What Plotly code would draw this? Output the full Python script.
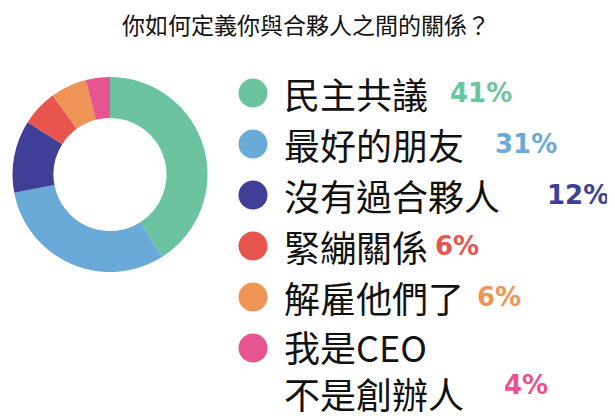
import plotly.graph_objects as go

# data
title = "你如何定義你與合夥人之間的關係？"
labels = ["民主共議", "最好的朋友", "沒有過合夥人", "緊繃關係", "解雇他們了", "我是CEO<br>不是創辦人"]
values = [41, 31, 12, 6, 6, 4]
colors = ["#6cc3a0", "#6aaad8", "#3f3f98", "#e8554f", "#ee9457", "#e8548f"]

# the page body has an 8px margin, so the figure is drawn 8px in from the
# window corner; work in window pixels and subtract that offset
OFF = 8
W, H = 615 - OFF, 420 - OFF


def px(x):
    return x - OFF


row0, row_gap = px(93), 51          # centre of first legend row, spacing
dot_x, text_x = px(253), px(282)
pct_x = [px(v) for v in (448, 493, 545, 433, 475, 502)]
pct_dy = [0, 0, 0, 0, 0, 37]        # extra pixel drop for the two-line item
line_h = 42
cjk = "Noto Sans CJK TC"

rows = list(range(len(labels)))

fig = go.Figure()

fig.add_trace(go.Pie(
    values=values, labels=labels, marker=dict(colors=colors, line=dict(width=0)),
    hole=0.58, sort=False, direction="clockwise", rotation=0,
    textinfo="none", hoverinfo="label+percent", showlegend=False,
    domain=dict(x=[px(12.5) / W, px(207.5) / W],
                y=[(H - px(272)) / H, (H - px(77)) / H]),
))

# legend dots
fig.add_trace(go.Scatter(
    x=[dot_x] * len(rows), y=rows, mode="markers",
    marker=dict(size=29, color=colors, line=dict(width=0)),
    hoverinfo="skip", showlegend=False,
))

for i, (lab, v, c) in enumerate(zip(labels, values, colors)):
    n = lab.count("<br>") + 1
    fig.add_annotation(x=text_x, y=i, text=lab, showarrow=False,
                       xanchor="left", yanchor="middle", align="left",
                       yshift=-(n - 1) * line_h / 2,
                       font=dict(family=cjk, size=36, color="#111111"))
    fig.add_annotation(x=pct_x[i], y=i, text=f"<b>{v}%</b>", showarrow=False,
                       xanchor="left", yanchor="middle", yshift=-pct_dy[i],
                       font=dict(family="DejaVu Sans", size=26, color=c))

fig.update_layout(
    width=W, height=H, margin=dict(l=0, r=0, t=0, b=0),
    paper_bgcolor="white", plot_bgcolor="white",
    title=dict(text=title, x=px(306) / W, xanchor="center",
               y=1 - px(26) / H, yanchor="middle",
               font=dict(family=cjk, size=23, color="#111111")),
    xaxis=dict(range=[0, W], visible=False, fixedrange=True),
    yaxis=dict(range=[(H - row0) / row_gap, -row0 / row_gap], visible=False, fixedrange=True),
)

fig.write_html("out.html")
